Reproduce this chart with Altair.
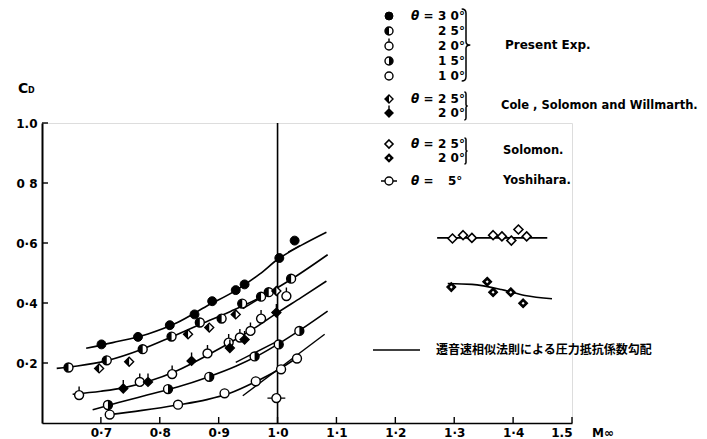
import altair as alt
import pandas as pd

# ---------------- data ----------------
# Present experiment (M_inf, C_D)
m30 = [0.701, 0.763, 0.817, 0.859, 0.889, 0.929, 0.944, 1.003, 1.029]
cd30 = [0.262, 0.287, 0.326, 0.362, 0.406, 0.443, 0.462, 0.550, 0.608]
m25 = [0.645, 0.710, 0.771, 0.820, 0.868, 0.905, 0.940, 0.972, 0.985, 1.023]
cd25 = [0.185, 0.209, 0.246, 0.288, 0.335, 0.348, 0.398, 0.421, 0.436, 0.481]
m20 = [0.663, 0.766, 0.821, 0.881, 0.917, 0.936, 0.954, 0.972, 1.015]
cd20 = [0.093, 0.137, 0.163, 0.232, 0.268, 0.285, 0.307, 0.348, 0.423]
m15 = [0.712, 0.814, 0.884, 0.961, 1.002, 1.037]
cd15 = [0.060, 0.113, 0.154, 0.222, 0.262, 0.307]
m10 = [0.715, 0.831, 0.910, 0.963, 1.006, 1.033]
cd10 = [0.028, 0.061, 0.099, 0.139, 0.179, 0.215]
# Cole, Solomon and Willmarth
mc25 = [0.697, 0.748, 0.848, 0.884, 0.929, 0.998]
cdc25 = [0.182, 0.204, 0.296, 0.318, 0.362, 0.440]
mc20 = [0.738, 0.780, 0.854, 0.919, 0.944, 0.998]
cdc20 = [0.115, 0.137, 0.207, 0.250, 0.278, 0.368]
# Solomon
ms25 = [1.297, 1.315, 1.330, 1.366, 1.381, 1.397, 1.409, 1.423]
cds25 = [0.615, 0.626, 0.617, 0.626, 0.622, 0.608, 0.645, 0.622]
ms20 = [1.295, 1.356, 1.366, 1.396, 1.417]
cds20 = [0.453, 0.471, 0.436, 0.436, 0.399]
# Yoshihara
my5 = [0.998]
cdy5 = [0.083]

# faired curves through the data
k30_m = [0.675, 0.72, 0.78, 0.83, 0.88, 0.93, 0.97, 1.0, 1.04, 1.083]
k30_cd = [0.249, 0.268, 0.297, 0.335, 0.390, 0.443, 0.497, 0.545, 0.592, 0.636]
k25_m = [0.625, 0.66, 0.71, 0.77, 0.82, 0.87, 0.92, 0.97, 1.02, 1.085]
k25_cd = [0.182, 0.190, 0.208, 0.246, 0.287, 0.330, 0.372, 0.418, 0.475, 0.561]
k20_m = [0.652, 0.70, 0.74, 0.78, 0.83, 0.88, 0.93, 0.97, 1.0, 1.04, 1.083]
k20_cd = [0.096, 0.106, 0.118, 0.138, 0.175, 0.225, 0.280, 0.328, 0.368, 0.418, 0.473]
k15_m = [0.686, 0.73, 0.78, 0.83, 0.88, 0.93, 0.97, 1.0, 1.04, 1.085]
k15_cd = [0.044, 0.068, 0.094, 0.120, 0.152, 0.190, 0.228, 0.262, 0.312, 0.373]
k10_m = [0.71, 0.77, 0.83, 0.88, 0.92, 0.96, 1.0, 1.035]
k10_cd = [0.027, 0.042, 0.060, 0.078, 0.100, 0.135, 0.176, 0.220]
ks25_m = [1.271, 1.458]
ks25_cd = [0.617, 0.617]
ks20_m = [1.289, 1.33, 1.38, 1.42, 1.466]
ks20_cd = [0.465, 0.462, 0.445, 0.425, 0.414]

# transonic-similarity gradient segments
g30_m = [1.018, 1.038]
g30_cd = [0.570, 0.591]
g25_m = [0.941, 0.987]
g25_cd = [0.381, 0.436]
g15_m = [0.929, 1.0]
g15_cd = [0.202, 0.273]
g10_m = [0.941, 1.080]
g10_cd = [0.091, 0.296]

x_ticks = [0.7, 0.8, 0.9, 1.0, 1.1, 1.2, 1.3, 1.4, 1.5]
x_labels = ["0·7", "0·8", "0·9", "1·0", "1·1", "1·2", "1·3", "1·4", "1.5"]
y_ticks = [0.2, 0.4, 0.6, 0.8, 1.0]
y_labels = ["0·2", "0·4", "0·6", "0 8", "1.0"]
sonic_m = 1.0

# ---------------- tables ----------------
series = {
    "p30": (m30, cd30), "p25": (m25, cd25), "p20": (m20, cd20),
    "p15": (m15, cd15), "p10": (m10, cd10),
    "c25": (mc25, cdc25), "c20": (mc20, cdc20),
    "s25": (ms25, cds25), "s20": (ms20, cds20),
    "y5": (my5, cdy5),
}
pts = pd.DataFrame([
    {"M": m, "Cd": c, "s": k}
    for k, (ms, cs) in series.items() for m, c in zip(ms, cs)
])
curves = {"k30": (k30_m, k30_cd), "k25": (k25_m, k25_cd), "k20": (k20_m, k20_cd),
          "k15": (k15_m, k15_cd), "k10": (k10_m, k10_cd),
          "ks25": (ks25_m, ks25_cd), "ks20": (ks20_m, ks20_cd)}
curve_df = pd.DataFrame([
    {"M": m, "Cd": c, "k": k, "o": i}
    for k, (ms, cs) in curves.items() for i, (m, c) in enumerate(zip(ms, cs))
])
grads = {"g30": (g30_m, g30_cd), "g25": (g25_m, g25_cd),
         "g15": (g15_m, g15_cd), "g10": (g10_m, g10_cd)}
grad_df = pd.DataFrame([
    {"M": m, "Cd": c, "k": k, "o": i}
    for k, (ms, cs) in grads.items() for i, (m, c) in enumerate(zip(ms, cs))
])
xt_df = pd.DataFrame({"M": x_ticks})
yt_df = pd.DataFrame({"Cd": y_ticks})
one = pd.DataFrame({"k": [0]})

W, H = 530, 300
FONT = "DejaVu Sans"
xs = alt.Scale(domain=[0.6, 1.5], nice=False, zero=False)
ys = alt.Scale(domain=[0.0, 1.0], nice=False)

# ---------------- marker glyphs ----------------
LEFT_HALF = "M0,-1 A1,1 0 0,0 0,1 Z"
RIGHT_HALF = "M0,-1 A1,1 0 0,1 0,1 Z"
TICK_CIRCLE = "M-1,0 A1,1 0 1,0 1,0 A1,1 0 1,0 -1,0 Z M0,-1 L0,-1.9"
BAR_CIRCLE = "M-1,0 A1,1 0 1,0 1,0 A1,1 0 1,0 -1,0 Z M-1,0 L-2,0 M1,0 L2,0"
DIAMOND = "M0,-1 L1,0 L0,1 L-1,0 Z"
LEFT_DIAMOND = "M0,-1 L-1,0 L0,1 Z"
TICK_DIAMOND = "M0,-1 L1,0 L0,1 L-1,0 Z M0,-1 L0,-1.9"
INNER_DIAMOND = "M0,-0.35 L0.35,0 L0,0.35 L-0.35,0 Z"

styles = {
    "p30": [("circle", "black", 1.0)],
    "p25": [("circle", "white", 1.4), (LEFT_HALF, "black", 0)],
    "p20": [(TICK_CIRCLE, "white", 1.4)],
    "p15": [("circle", "white", 1.4), (RIGHT_HALF, "black", 0)],
    "p10": [("circle", "white", 1.4)],
    "c25": [(DIAMOND, "white", 1.4), (LEFT_DIAMOND, "black", 0)],
    "c20": [(TICK_DIAMOND, "black", 1.4)],
    "s25": [(DIAMOND, "white", 1.6)],
    "s20": [(DIAMOND, "black", 1.2), (INNER_DIAMOND, "white", 0)],
    "y5": [(BAR_CIRCLE, "white", 1.4)],
}


def glyph(style, base, x, y, size):
    out = []
    for shape, fill, sw in style:
        kw = dict(shape=shape, filled=True, fill=fill, size=size, opacity=1)
        if sw > 0:
            kw.update(stroke="black", strokeWidth=sw)
        else:
            kw.update(strokeWidth=0)
        out.append(base.mark_point(**kw).encode(x=x, y=y))
    return out


layers = []

# axes (domain + labels)
axes = alt.Chart(one).mark_point(opacity=0).encode(
    x=alt.X("k:Q", scale=xs, title=None, axis=alt.Axis(
        values=x_ticks, ticks=False, grid=False, domainColor="black", domainWidth=1.6,
        labelFont=FONT, labelFontWeight="bold", labelFontSize=12, labelColor="black",
        labelPadding=4,
        labelExpr="%s[round(datum.value*10)-7]" % str(x_labels))),
    y=alt.Y("k:Q", scale=ys, title=None, axis=alt.Axis(
        values=y_ticks, ticks=False, grid=False, domainColor="black", domainWidth=2,
        labelFont=FONT, labelFontWeight="bold", labelFontSize=12, labelColor="black",
        labelPadding=5,
        labelExpr="%s[round(datum.value*5)-1]" % str(y_labels))),
)
layers.append(axes)

# inward ticks
layers.append(alt.Chart(xt_df).mark_rule(color="black", strokeWidth=1.4).encode(
    x=alt.X("M:Q", scale=xs), y=alt.value(H), y2=alt.value(H - 6)))
layers.append(alt.Chart(yt_df).mark_rule(color="black", strokeWidth=1.4).encode(
    y=alt.Y("Cd:Q", scale=ys), x=alt.value(0), x2=alt.value(6)))

# sonic line M = 1
layers.append(alt.Chart(one).mark_rule(color="black", strokeWidth=1.6).encode(
    x=alt.datum(sonic_m, scale=xs), y=alt.datum(0.0, scale=ys), y2=alt.datum(1.0)))

# curves
layers.append(alt.Chart(curve_df).mark_line(color="black", strokeWidth=1.6,
                                            interpolate="monotone").encode(
    x=alt.X("M:Q", scale=xs), y=alt.Y("Cd:Q", scale=ys), detail="k:N", order="o:Q"))
layers.append(alt.Chart(grad_df).mark_line(color="black", strokeWidth=1.4).encode(
    x=alt.X("M:Q", scale=xs), y=alt.Y("Cd:Q", scale=ys), detail="k:N", order="o:Q"))

# data points
for key, st in styles.items():
    base = alt.Chart(pts).transform_filter(alt.datum.s == key)
    layers += glyph(st, base, alt.X("M:Q", scale=xs), alt.Y("Cd:Q", scale=ys), 80)

# ---------------- legend ----------------
LX = 347


def txt(s, x, y, size=12, align="left", weight="bold", font=FONT, style="normal"):
    return alt.Chart(one).mark_text(text=s, align=align, baseline="middle", font=font,
                                    fontSize=size, fontWeight=weight, fontStyle=style,
                                    color="black").encode(x=alt.value(x), y=alt.value(y))


rows = [("p30", -107, "θ =", "3 0°"), ("p25", -92, None, "2 5°"),
        ("p20", -77, None, "2 0°"), ("p15", -62, None, "1 5°"),
        ("p10", -47, None, "1 0°"),
        ("c25", -24, "θ =", "2 5°"), ("c20", -10, None, "2 0°"),
        ("s25", 21, "θ =", "2 5°"), ("s20", 35, None, "2 0°"),
        ("y5", 58, "θ =", "5°")]
for key, yy, th, val in rows:
    layers += glyph(styles[key], alt.Chart(one), alt.value(LX), alt.value(yy), 64)
    if th:
        layers.append(txt(th, 369, yy, 12, style="italic"))
    layers.append(txt(val, 406 if key == "y5" else 396, yy, 12))

BRACE = "M-0.12,-1 Q0,-1 0,-0.88 L0,-0.1 Q0,0 0.12,0 Q0,0 0,0.1 L0,0.88 Q0,1 -0.12,1"
for yy, hh in [(-78, 72), (-17, 28), (28, 26)]:
    layers.append(alt.Chart(one).mark_point(shape=BRACE, filled=False, stroke="black",
                                            strokeWidth=1.5, size=hh * hh, opacity=1).encode(
        x=alt.value(424), y=alt.value(yy)))

layers.append(txt("Present  Exp.", 463, -78, 12))
layers.append(txt("Cole , Solomon and Willmarth.", 459, -17, 11.5))
layers.append(txt("Solomon.", 461, 28, 11.5))
layers.append(txt("Yoshihara.", 461, 58, 11.5))

# gradient legend
layers.append(alt.Chart(one).mark_rule(color="black", strokeWidth=1.4).encode(
    x=alt.value(331), x2=alt.value(378), y=alt.value(227)))
layers.append(txt("遷音速相似法則による圧力抵抗係数勾配", 394, 227, 12,
                  font="Noto Sans CJK JP"))

# axis titles
layers.append(txt("C", -24, -34, 14))
layers.append(txt("D", -14, -32, 8))
layers.append(txt("M∞", 550, H + 10, 12))

chart = alt.layer(*layers).properties(
    width=W, height=H,
    autosize=alt.AutoSizeParams(type="none"),
    padding={"left": 34, "top": 115, "right": 127, "bottom": 16},
).configure_view(stroke=None).configure(background="white")

chart.save("out.html", embed_options={"renderer": "svg", "actions": False})
